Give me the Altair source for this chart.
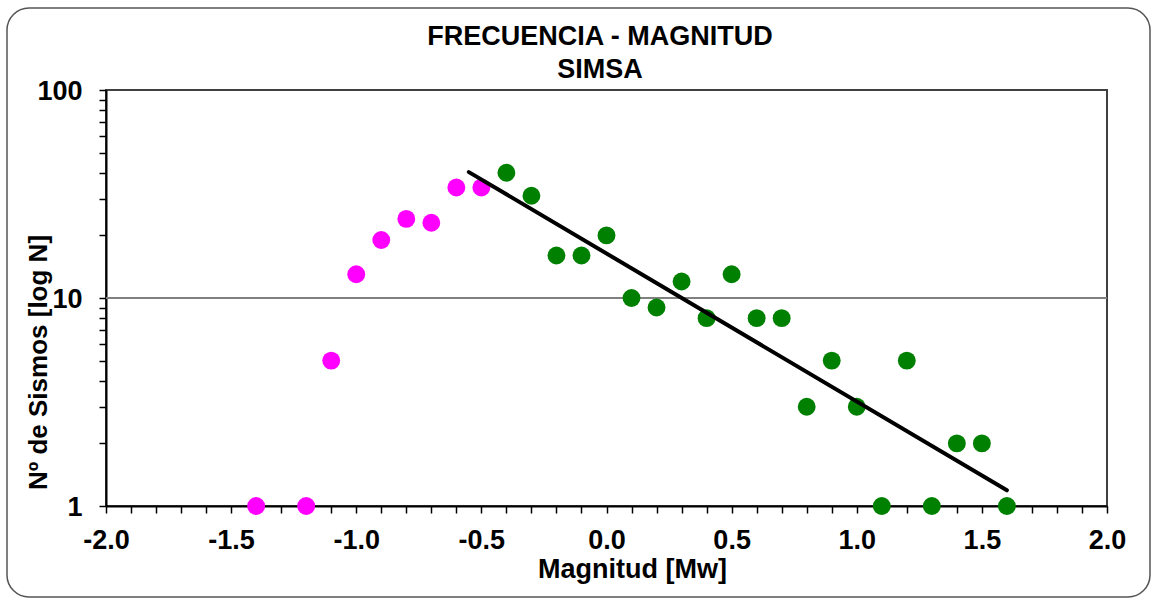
import altair as alt
import pandas as pd

# Magnitudes below completeness (magenta) and above (green)
mag_low = [-1.4, -1.2, -1.1, -1.0, -0.9, -0.8, -0.7, -0.6, -0.5]
n_low = [1, 1, 5, 13, 19, 24, 23, 34, 34]
mag_high = [-0.4, -0.3, -0.2, -0.1, 0.0, 0.1, 0.2, 0.3, 0.4, 0.5, 0.6, 0.7,
            0.8, 0.9, 1.0, 1.1, 1.2, 1.3, 1.4, 1.5, 1.6]
n_high = [40, 31, 16, 16, 20, 10, 9, 12, 8, 13, 8, 8,
          3, 5, 3, 1, 5, 1, 2, 2, 1]
# Gutenberg-Richter fit line endpoints
fit_mag = [-0.55, 1.6]
fit_n = [40.3, 1.19]

title_lines = ["FRECUENCIA - MAGNITUD", "SIMSA"]
x_ticks = [round(-2.0 + 0.1 * i, 1) for i in range(41)]
y_ticks = [1, 2, 3, 4, 5, 6, 7, 8, 9, 10, 20, 30, 40, 50, 60, 70, 80, 90, 100]

pts = pd.DataFrame({
    "mag": mag_low + mag_high,
    "n": n_low + n_high,
    "grp": ["low"] * len(mag_low) + ["high"] * len(mag_high),
})
fit = pd.DataFrame({"mag": fit_mag, "n": fit_n})

FONT = "Liberation Sans"

xscale = alt.Scale(domain=[-2.0, 2.0], nice=False, zero=False)
yscale = alt.Scale(type="log", domain=[1, 100], nice=False)

x_axis = alt.Axis(
    values=x_ticks,
    labelExpr="abs(datum.value*2 - round(datum.value*2)) < 0.001 ? replace(format(datum.value, '.1f'), '\u2212', '-') : ''",
    tickSize=7, grid=False, domainColor="black", tickColor="black", domainWidth=2, tickWidth=1.5,
    labelFont=FONT, labelFontSize=27, labelFontWeight="bold", labelColor="black",
    labelPadding=14, labelFlush=False, labelOverlap=False,
    title="Magnitud [Mw]", titleFont=FONT, titleFontSize=27, titleFontWeight="bold",
    titleColor="black", titleX=526, titleY=71, titleBaseline="alphabetic",
)
y_axis = alt.Axis(
    values=y_ticks,
    labelExpr="indexof([1,10,100], datum.value) >= 0 ? format(datum.value, 'd') : ''",
    tickSize=7, grid=False, domainColor="black", tickColor="black", domainWidth=2, tickWidth=1.5,
    labelFont=FONT, labelFontSize=27, labelFontWeight="bold", labelColor="black",
    labelPadding=17, labelOverlap=False, labelOffset=1,
    title="Nº de Sismos [log N]", titleFont=FONT, titleFontSize=26, titleFontWeight="bold",
    titleColor="black", titleX=-60, titleY=272, titleBaseline="alphabetic", titleAngle=-90,
)

frame = alt.Chart(alt.Data(values=[{}])).mark_rect(
    filled=False, stroke="#555555", strokeWidth=1.5, cornerRadius=22
).encode(
    x=alt.value(-99), x2=alt.value(1044), y=alt.value(-82), y2=alt.value(507)
)

title1 = alt.Chart(alt.Data(values=[{"t": title_lines[0]}])).mark_text(
    font=FONT, fontSize=27, fontWeight="bold", color="black",
    align="center", baseline="alphabetic"
).encode(text="t:N", x=alt.value(494), y=alt.value(-45))

title2 = alt.Chart(alt.Data(values=[{"t": title_lines[1]}])).mark_text(
    font=FONT, fontSize=27, fontWeight="bold", color="black",
    align="center", baseline="alphabetic"
).encode(text="t:N", x=alt.value(494), y=alt.value(-12))

grid10 = alt.Chart(alt.Data(values=[{"n": 10}])).mark_rule(
    color="#808080", strokeWidth=2
).encode(y=alt.Y("n:Q", scale=yscale, axis=y_axis))

points = alt.Chart(pts).mark_circle(size=320, opacity=1).encode(
    x=alt.X("mag:Q", scale=xscale, axis=x_axis),
    y=alt.Y("n:Q", scale=yscale, axis=y_axis),
    color=alt.Color("grp:N", scale=alt.Scale(domain=["low", "high"],
                                             range=["#FF00FF", "#008000"]), legend=None),
)

line = alt.Chart(fit).mark_line(color="black", strokeWidth=4, strokeCap="round").encode(
    x=alt.X("mag:Q", scale=xscale, axis=x_axis),
    y=alt.Y("n:Q", scale=yscale, axis=y_axis),
)

chart = alt.layer(frame, title1, title2, grid10, points, line).properties(
    width=1001, height=416,
    autosize=alt.AutoSizeParams(type="none"),
    padding={"left": 106, "top": 90, "right": 50, "bottom": 98},
    background="white",
).configure_view(stroke="#404040", strokeWidth=2)

chart.save("out.html", embed_options={"renderer": "svg", "actions": False})
